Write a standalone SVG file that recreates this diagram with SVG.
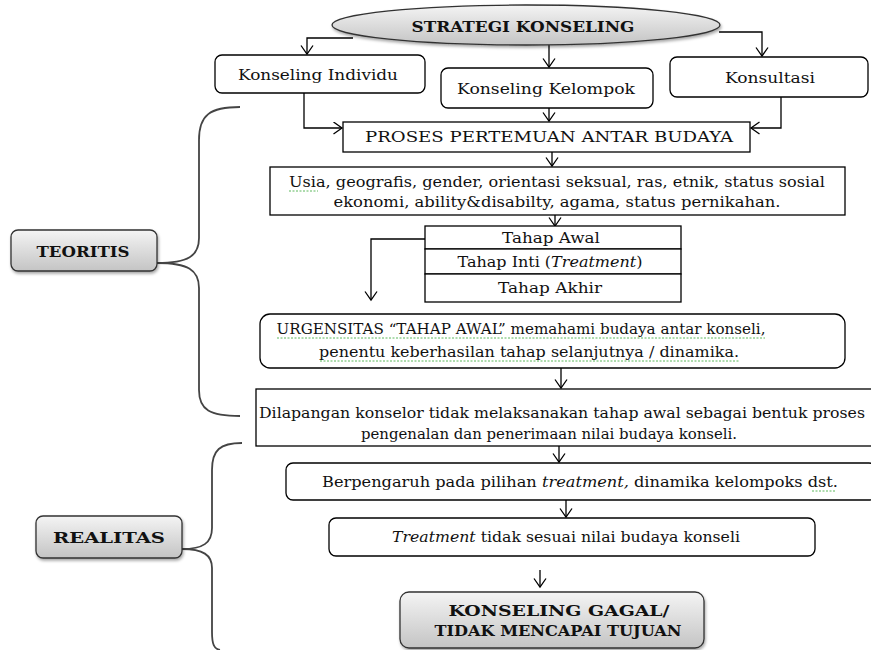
<svg xmlns="http://www.w3.org/2000/svg" width="871" height="650" viewBox="0 0 871 650">
<style>
.box{fill:#fff;stroke:#000;stroke-width:1.3}
.gbox{stroke:#333;stroke-width:1.3;fill:url(#g)}
.t{font-family:"DejaVu Serif","Liberation Serif",serif;font-size:14.5px;fill:#111;text-anchor:middle}
.b{font-family:"DejaVu Serif","Liberation Serif",serif;font-size:15px;font-weight:bold;fill:#111;text-anchor:middle}
.c{fill:none;stroke:#000;stroke-width:1.3}
.br{fill:none;stroke:#444;stroke-width:1.8}
.sp{fill:none;stroke:#5cb85c;stroke-width:1;stroke-dasharray:2 1.5}
</style>
<defs>
<linearGradient id="g" x1="0" y1="0" x2="0" y2="1">
<stop offset="0" stop-color="#f4f4f4"/>
<stop offset="1" stop-color="#c4c4c4"/>
</linearGradient>
<filter id="sh" x="-10%" y="-10%" width="120%" height="130%">
<feDropShadow dx="1" dy="2" stdDeviation="1.5" flood-color="#000" flood-opacity="0.35"/>
</filter>
<marker id="a" markerWidth="12" markerHeight="14" refX="9" refY="6.5" orient="auto" markerUnits="userSpaceOnUse">
<path d="M0.5,0.5 L9,6.5 L0.5,12.5" fill="none" stroke="#000" stroke-width="1.3"/>
</marker>
</defs>

<g id="connectors">
<path class="c" d="M353,38 H307 V54" marker-end="url(#a)"/>
<path class="c" d="M549,45 V67" marker-end="url(#a)"/>
<path class="c" d="M719,32 H762 V56" marker-end="url(#a)"/>
<path class="c" d="M304,93 V128 H342" marker-end="url(#a)"/>
<path class="c" d="M549,108 V121" marker-end="url(#a)"/>
<path class="c" d="M781,97 V128 H751" marker-end="url(#a)"/>
<path class="c" d="M552,152 V166" marker-end="url(#a)"/>
<path class="c" d="M555,215 V226" marker-end="url(#a)"/>
<path class="c" d="M425,239 H371 V300" marker-end="url(#a)"/>
<path class="c" d="M561,368 V388" marker-end="url(#a)"/>
<path class="c" d="M559,446 V462" marker-end="url(#a)"/>
<path class="c" d="M566,500 V517" marker-end="url(#a)"/>
<path class="c" d="M540,570 V587" marker-end="url(#a)"/>
<path class="br" d="M240,107 C210,107 199,115 199,140 V238 C199,256 188,263 157,263 C188,263 199,270 199,288 V390 C199,410 210,416 240,416"/>
<path class="br" d="M242,443 C220,443 212,450 212,470 V528 C212,543 203,549 182,549 C203,549 212,555 212,568 V632 C212,644 214,649 220,650"/>
</g>

<g id="strategi">
<ellipse cx="526" cy="25" rx="194" ry="20" class="gbox" filter="url(#sh)"/>
<text class="b" x="523" y="32" font-size="16" textLength="223" lengthAdjust="spacingAndGlyphs">STRATEGI KONSELING</text>
</g>
<g id="individu">
<rect class="box" x="215" y="55" width="210" height="38" rx="7"/>
<text class="t" x="318" y="80" textLength="160" lengthAdjust="spacingAndGlyphs">Konseling Individu</text>
</g>
<g id="kelompok">
<rect class="box" x="441" y="68" width="212" height="40" rx="7"/>
<text class="t" x="546" y="94" textLength="178" lengthAdjust="spacingAndGlyphs">Konseling Kelompok</text>
</g>
<g id="konsultasi">
<rect class="box" x="670" y="57" width="198" height="40" rx="7"/>
<text class="t" x="770" y="83" textLength="90" lengthAdjust="spacingAndGlyphs">Konsultasi</text>
</g>
<g id="proses">
<rect class="box" x="343" y="122" width="407" height="30"/>
<text class="t" x="549" y="142" textLength="368" lengthAdjust="spacingAndGlyphs">PROSES PERTEMUAN ANTAR BUDAYA</text>
</g>
<g id="usia">
<rect class="box" x="270" y="167" width="575" height="48"/>
<text class="t" x="557" y="187" textLength="536" lengthAdjust="spacingAndGlyphs">Usia, geografis, gender, orientasi seksual, ras, etnik, status sosial</text>
<text class="t" x="557" y="207" textLength="447" lengthAdjust="spacingAndGlyphs">ekonomi, ability&amp;disabilty, agama, status pernikahan.</text>
<path class="sp" d="M289,191 H318"/>
</g>
<g id="tahap-awal">
<rect class="box" x="425" y="226" width="256" height="23"/>
<text class="t" x="551" y="243" textLength="98" lengthAdjust="spacingAndGlyphs">Tahap Awal</text>
</g>
<g id="tahap-inti">
<rect class="box" x="425" y="249" width="256" height="25"/>
<text class="t" x="550" y="267" textLength="185" lengthAdjust="spacingAndGlyphs">Tahap Inti (<tspan font-style="italic">Treatment</tspan>)</text>
</g>
<g id="tahap-akhir">
<rect class="box" x="425" y="274" width="256" height="28"/>
<text class="t" x="550" y="293" textLength="104" lengthAdjust="spacingAndGlyphs">Tahap Akhir</text>
</g>
<g id="urgensitas">
<rect class="box" x="260" y="314" width="585" height="54" rx="10"/>
<text class="t" x="521" y="334" textLength="489" lengthAdjust="spacingAndGlyphs">URGENSITAS “TAHAP AWAL” memahami budaya antar konseli,</text>
<text class="t" x="529" y="357" textLength="420" lengthAdjust="spacingAndGlyphs">penentu keberhasilan tahap selanjutnya / dinamika.</text>
<path class="sp" d="M277,338 H765 M320,361 H739"/>
</g>
<g id="dilapangan">
<rect class="box" x="256" y="389" width="620" height="57"/>
<text class="t" x="562" y="418" textLength="606" lengthAdjust="spacingAndGlyphs">Dilapangan konselor tidak melaksanakan tahap awal sebagai bentuk proses</text>
<text class="t" x="549" y="439" textLength="376" lengthAdjust="spacingAndGlyphs">pengenalan dan penerimaan nilai budaya konseli.</text>
</g>
<g id="berpengaruh">
<rect class="box" x="286" y="463" width="590" height="37" rx="7"/>
<text class="t" x="580" y="487" textLength="516" lengthAdjust="spacingAndGlyphs">Berpengaruh pada pilihan <tspan font-style="italic">treatment,</tspan> dinamika kelompoks dst.</text>
<path class="sp" d="M812,491 H835"/>
</g>
<g id="treatment">
<rect class="box" x="329" y="518" width="486" height="38" rx="7"/>
<text class="t" x="566" y="542" textLength="348" lengthAdjust="spacingAndGlyphs"><tspan font-style="italic">Treatment</tspan> tidak sesuai nilai budaya konseli</text>
</g>
<g id="gagal">
<rect class="gbox" x="400" y="592" width="304" height="56" rx="9" filter="url(#sh)"/>
<text class="b" x="559" y="616" textLength="221" lengthAdjust="spacingAndGlyphs">KONSELING GAGAL/</text>
<text class="b" x="558" y="636" textLength="247" lengthAdjust="spacingAndGlyphs">TIDAK MENCAPAI TUJUAN</text>
</g>
<g id="teoritis">
<rect class="gbox" x="11" y="230" width="146" height="41" rx="7" filter="url(#sh)"/>
<text class="b" x="83" y="257" textLength="93" lengthAdjust="spacingAndGlyphs">TEORITIS</text>
</g>
<g id="realitas">
<rect class="gbox" x="36" y="516" width="146" height="42" rx="7" filter="url(#sh)"/>
<text class="b" x="109" y="543" textLength="112" lengthAdjust="spacingAndGlyphs">REALITAS</text>
</g>
</svg>
